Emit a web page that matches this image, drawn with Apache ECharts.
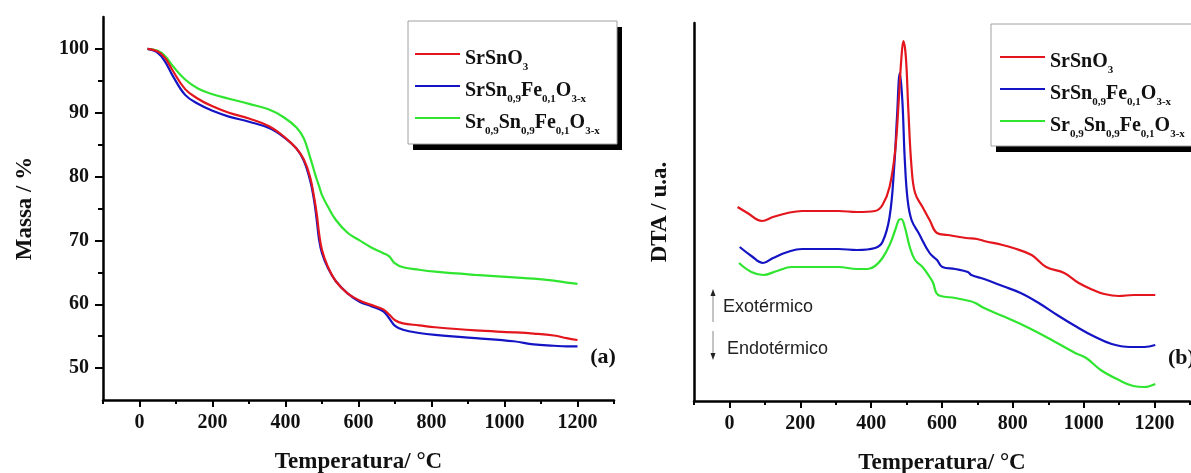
<!DOCTYPE html>
<html>
<head>
<meta charset="utf-8">
<script src="https://cdn.jsdelivr.net/npm/echarts@6/dist/echarts.min.js"></script>
<style>
html, body { margin: 0; padding: 0; background: #fff; }
#chart { width: 1191px; height: 473px; }
</style>
</head>
<body>
<div id="chart"></div>
<script>
// Sample names and their legend labels (rich text with subscripts)
const seriesNames = ['SrSnO3', 'SrSn0,9Fe0,1O3-x', 'Sr0,9Sn0,9Fe0,1O3-x'];
const legendLabels = [
  '{m|SrSnO}{s|3}',
  '{m|SrSn}{s|0,9}{m|Fe}{s|0,1}{m|O}{s|3-x}',
  '{m|Sr}{s|0,9}{m|Sn}{s|0,9}{m|Fe}{s|0,1}{m|O}{s|3-x}'
];
const colors = ['#e3161d', '#1414c4', '#2fe52f'];

// Axis tick values
const tempTicks = [0, 200, 400, 600, 800, 1000, 1200];
const tempMinorTicks = [-100, 100, 300, 500, 700, 900, 1100, 1300];
const massTicks = [50, 60, 70, 80, 90, 100];
const massMinorTicks = [55, 65, 75, 85, 95];

// (a) TGA: mass (%) vs temperature (°C)
const tgaTemp = [22, 50, 70, 90, 125, 160, 200, 245, 300, 355, 395, 430, 450, 467, 478, 486, 492, 500, 516, 538, 570, 603, 635, 668, 684, 700, 722, 766, 810, 920, 1025, 1080, 1135, 1170, 1200];
const tgaSrSnO3 = [100, 99.6, 98.6, 96.7, 93.7, 92.2, 91.0, 90.0, 89.1, 87.9, 86.3, 84.4, 82.7, 80.0, 76.9, 74.0, 71.1, 68.5, 65.9, 63.6, 61.7, 60.6, 59.9, 59.2, 58.4, 57.5, 57.0, 56.7, 56.4, 55.9, 55.6, 55.4, 55.1, 54.7, 54.4];
const tgaSrSnFe = [100, 99.4, 98.0, 95.9, 92.8, 91.4, 90.3, 89.4, 88.6, 87.6, 86.2, 84.4, 82.5, 79.5, 76.4, 73.0, 70.1, 68.0, 65.7, 63.6, 61.7, 60.4, 59.7, 58.9, 57.8, 56.6, 56.0, 55.5, 55.2, 54.7, 54.2, 53.7, 53.5, 53.4, 53.4];
const tgaSrDefSnFe = [100, 99.7, 98.9, 97.4, 95.2, 93.8, 92.9, 92.2, 91.4, 90.5, 89.3, 87.7, 86.0, 83.1, 81.0, 79.5, 78.5, 77.1, 75.3, 73.2, 71.2, 70.0, 68.9, 68.0, 67.5, 66.4, 65.8, 65.4, 65.1, 64.6, 64.2, 64.0, 63.7, 63.4, 63.2];

// (b) DTA signal (arbitrary units) vs temperature (°C)
const dtaTempSrSnO3 = [23, 51, 92, 123, 164, 205, 257, 308, 360, 411, 432, 452, 468, 478, 485, 491, 498, 505, 514, 524, 545, 565, 586, 616, 668, 699, 719, 771, 801, 853, 894, 945, 986, 1027, 1058, 1099, 1140, 1171, 1202];
const dtaSrSnO3 = [194, 188, 180, 184, 188, 190, 190, 190, 189, 190, 196, 214, 251, 301, 341, 360, 344, 291, 234, 208, 194, 181, 168, 166, 163, 162, 160, 156, 153, 146, 134, 128, 118, 111, 107, 105, 106, 106, 106];
const dtaTempSrSnFe = [29, 62, 95, 123, 164, 205, 308, 360, 411, 432, 452, 465, 473, 481, 488, 495, 503, 514, 534, 565, 586, 601, 637, 673, 683, 719, 771, 822, 873, 925, 976, 1027, 1079, 1130, 1171, 1202];
const dtaSrSnFe = [154, 145, 138, 143, 149, 152, 152, 151, 153, 159, 184, 234, 284, 328, 301, 241, 201, 181, 168, 148, 141, 134, 132, 129, 126, 122, 115, 108, 98, 86, 75, 65, 57, 54, 54, 56];
const dtaTempSrDefSnFe = [27, 62, 95, 134, 175, 226, 308, 360, 390, 411, 432, 452, 468, 478, 485, 495, 509, 524, 545, 565, 575, 584, 596, 637, 678, 694, 719, 771, 822, 873, 925, 976, 1007, 1048, 1099, 1140, 1171, 1202];
const dtaSrDefSnFe = [138, 129, 126, 130, 134, 134, 134, 132, 132, 135, 143, 156, 171, 181, 182, 174, 154, 141, 134, 124, 118, 108, 105, 103, 100, 98, 93, 85, 77, 68, 58, 48, 43, 31, 21, 15, 14, 17];

const serif = 'Liberation Serif';
const ink = '#111';

function zip(xs, ys) { return xs.map((x, i) => [x, ys[i]]); }

const legendRich = {
  m: { fontFamily: serif, fontWeight: 'bold', fontSize: 20, color: ink, lineHeight: 20, padding: [5, 0, 0, 0], verticalAlign: 'top' },
  s: { fontFamily: serif, fontWeight: 'bold', fontSize: 11, color: ink, lineHeight: 12, padding: [18, 0, 4, 0], verticalAlign: 'top' }
};

function makeLegend(left, top) {
  return {
    orient: 'vertical', left: left, top: top,
    data: seriesNames,
    icon: 'rect', itemWidth: 45, itemHeight: 2, itemGap: -1,
    padding: [0, 0, 0, 0],
    selectedMode: false,
    formatter: name => legendLabels[seriesNames.indexOf(name)],
    textStyle: { rich: legendRich }
  };
}

// Framed legend box with a solid offset shadow
function legendFrame(x, y, w, h) {
  return [
    { type: 'rect', z: 0, shape: { x: x + 5, y: y + 6, width: w, height: h }, style: { fill: '#000' } },
    { type: 'rect', z: 1, shape: { x: x, y: y, width: w, height: h }, style: { fill: '#fff', stroke: '#a0a0a0', lineWidth: 1 } }
  ];
}

const tickLabelStyle = { fontFamily: serif, fontWeight: 'bold', fontSize: 20, color: ink };
const titleStyle = { fontFamily: serif, fontWeight: 'bold', fontSize: 23, color: ink };
const axisLineStyle = { color: '#000', width: 2.5 };
const plainNumber = v => String(v);

function tempAxes(gridIndex) {
  return [
    {
      type: 'value', gridIndex: gridIndex, min: -100, max: 1300, position: 'bottom',
      axisLine: { show: true, onZero: false, lineStyle: axisLineStyle },
      axisTick: { show: true, customValues: tempTicks, length: 7, lineStyle: { color: '#000', width: 2 } },
      axisLabel: { show: true, customValues: tempTicks, margin: 13, formatter: plainNumber, ...tickLabelStyle },
      splitLine: { show: false },
      name: 'Temperatura/ °C', nameLocation: 'middle', nameGap: 51, nameTextStyle: titleStyle
    },
    {
      type: 'value', gridIndex: gridIndex, min: -100, max: 1300, position: 'bottom',
      axisLine: { show: false, onZero: false },
      axisTick: { show: true, customValues: tempMinorTicks, length: 4, lineStyle: { color: '#000', width: 2 } },
      axisLabel: { show: false },
      splitLine: { show: false }
    }
  ];
}

function lineSeries(name, idx, xIdx, yIdx, data) {
  return {
    type: 'line', name: name, xAxisIndex: xIdx, yAxisIndex: yIdx,
    data: data, showSymbol: false, symbol: 'none',
    smooth: 0.4,
    lineStyle: { color: colors[idx], width: 2.2 },
    itemStyle: { color: colors[idx] },
    z: 3 - idx
  };
}

const option = {
  backgroundColor: '#fff',
  animation: false,
  grid: [
    { left: 103, top: 17, width: 511, height: 383, outerBoundsMode: 'none', containLabel: false },
    { left: 694, top: 23, width: 496, height: 378, outerBoundsMode: 'none', containLabel: false }
  ],
  xAxis: [...tempAxes(0), ...tempAxes(1)],
  yAxis: [
    {
      type: 'value', gridIndex: 0, min: 45, max: 105, position: 'left',
      axisLine: { show: true, onZero: false, lineStyle: axisLineStyle },
      axisTick: { show: true, customValues: massTicks, length: 8, lineStyle: { color: '#000', width: 2 } },
      axisLabel: { show: true, customValues: massTicks, margin: 14, ...tickLabelStyle },
      splitLine: { show: false },
      name: 'Massa / %', nameLocation: 'middle', nameGap: 66, nameTextStyle: titleStyle
    },
    {
      type: 'value', gridIndex: 0, min: 45, max: 105, position: 'left',
      axisLine: { show: false, onZero: false },
      axisTick: { show: true, customValues: massMinorTicks, length: 5, lineStyle: { color: '#000', width: 2 } },
      axisLabel: { show: false },
      splitLine: { show: false }
    },
    {
      type: 'value', gridIndex: 1, min: 0, max: 378, position: 'left',
      axisLine: { show: true, onZero: false, lineStyle: axisLineStyle },
      axisTick: { show: false },
      axisLabel: { show: false },
      splitLine: { show: false },
      name: 'DTA / u.a.', nameLocation: 'middle', nameGap: 22, nameTextStyle: titleStyle
    }
  ],
  legend: [makeLegend(415, 44), makeLegend(1000, 47)],
  series: [
    lineSeries(seriesNames[0], 0, 0, 0, zip(tgaTemp, tgaSrSnO3)),
    lineSeries(seriesNames[1], 1, 0, 0, zip(tgaTemp, tgaSrSnFe)),
    lineSeries(seriesNames[2], 2, 0, 0, zip(tgaTemp, tgaSrDefSnFe)),
    lineSeries(seriesNames[0], 0, 2, 2, zip(dtaTempSrSnO3, dtaSrSnO3)),
    lineSeries(seriesNames[1], 1, 2, 2, zip(dtaTempSrSnFe, dtaSrSnFe)),
    lineSeries(seriesNames[2], 2, 2, 2, zip(dtaTempSrDefSnFe, dtaSrDefSnFe))
  ],
  graphic: [
    ...legendFrame(408, 21, 209, 123),
    ...legendFrame(991, 24, 230, 122),
    { type: 'text', x: 603, y: 357, style: { text: '(a)', font: 'bold 22px "Liberation Serif"', fill: ink, align: 'center', verticalAlign: 'middle' } },
    { type: 'text', x: 1168, y: 358, style: { text: '(b)', font: 'bold 22px "Liberation Serif"', fill: ink, align: 'left', verticalAlign: 'middle' } },
    { type: 'text', x: 723, y: 307, style: { text: 'Exotérmico', font: '18px "Liberation Sans"', fill: '#222', align: 'left', verticalAlign: 'middle' } },
    { type: 'text', x: 727, y: 349, style: { text: 'Endotérmico', font: '18px "Liberation Sans"', fill: '#222', align: 'left', verticalAlign: 'middle' } },
    { type: 'line', shape: { x1: 713, y1: 322, x2: 713, y2: 295 }, style: { stroke: '#888', lineWidth: 1 } },
    { type: 'polygon', shape: { points: [[710.5, 296], [715.5, 296], [713, 289]] }, style: { fill: '#222' } },
    { type: 'line', shape: { x1: 713, y1: 331, x2: 713, y2: 354 }, style: { stroke: '#888', lineWidth: 1 } },
    { type: 'polygon', shape: { points: [[710.5, 353], [715.5, 353], [713, 360]] }, style: { fill: '#222' } }
  ]
};

const chart = echarts.init(document.getElementById('chart'), null, { renderer: 'canvas' });
chart.setOption(option);
</script>
</body>
</html>
